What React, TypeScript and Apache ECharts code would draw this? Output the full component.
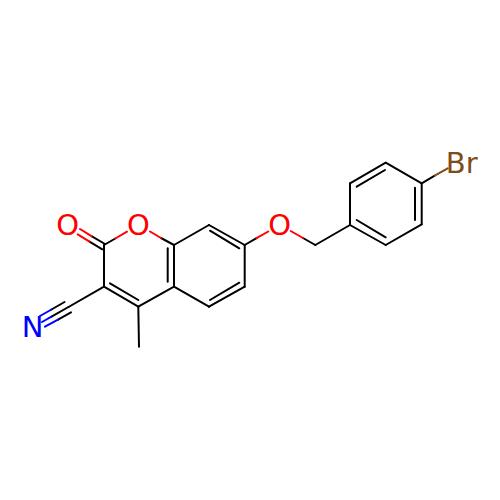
import React, { useEffect, useRef } from "react";
import * as echarts from "echarts";

// Bond segments in picture units: x1, y1, x2, y2
const blackBonds = [
  [91.5, 236.2, 105, 244], [89.5, 241.6, 102.3, 249.3],
  [104, 245, 115.3, 238.5],
  [161, 238, 174, 245],
  [174, 245, 174, 286.7], [167.7, 248.3, 167.7, 281.7],
  [174, 286.7, 138.3, 306.7],
  [138.3, 306.7, 104, 286.7], [110, 283.3, 138.3, 300],
  [104, 286.7, 104, 245],
  [138.3, 306.7, 139, 346.7],
  [104, 286.7, 68.5, 307],
  [64.5, 302, 51.5, 309.5], [71, 312.3, 58, 319.7], [68.5, 307, 51.5, 316.7],
  [174, 286.7, 209, 306.7],
  [209, 306.7, 244.7, 286.7], [210, 300, 239.3, 282.7],
  [244.7, 286.7, 244.7, 245],
  [244.7, 245, 209, 225], [239.3, 248.3, 210, 230.7],
  [209, 225, 174, 245],
  [244.7, 245, 256.5, 238.2],
  [303, 238, 315.3, 245],
  [315.3, 245, 350, 225],
  [350, 225, 350, 183.3], [350, 225, 385.7, 245], [356.7, 220, 385.7, 237.3],
  [350, 183.3, 385.7, 162.7], [356.7, 186.7, 385, 170],
  [385.7, 162.7, 421.7, 183.3],
  [421.7, 183.3, 421.7, 224.3], [415, 187.7, 415, 220],
  [421.7, 224.3, 385.7, 245],
  [421.7, 183.3, 434.7, 175.7],
];
const redBonds = [
  [80, 229, 91.5, 236.2], [77.7, 234.3, 89.5, 241.6],
  [115.3, 238.5, 127, 231.7],
  [150, 231.5, 161, 238],
  [256.5, 238.2, 268.3, 231.5],
  [290.7, 231, 303, 238],
];
const blueBonds = [
  [51.5, 309.5, 40, 316], [58, 319.7, 45, 326.7], [51.5, 316.7, 42, 322],
];
const brownBonds = [[434.7, 175.7, 447.7, 168.3]];

// Atom labels: x, y, text
const oxygenAtoms = [[67.7, 225, "O"], [138.3, 225, "O"], [279.7, 225, "O"]];
const nitrogenAtoms = [[32.7, 327, "N"]];
const bromineAtoms = [[461.7, 163, "Br"]];

const BLACK = "#000000";
const RED = "#FF0000";
const BLUE = "#0000FF";
const BROWN = "#7F4C19";

const bondSeries = (data: number[][], color: string) => ({
  type: "custom",
  coordinateSystem: "cartesian2d",
  silent: true,
  clip: false,
  data,
  encode: { x: [0, 2], y: [1, 3] },
  renderItem: (_p: any, api: any) => {
    const a = api.coord([api.value(0), api.value(1)]);
    const b = api.coord([api.value(2), api.value(3)]);
    return {
      type: "line",
      shape: { x1: a[0], y1: a[1], x2: b[0], y2: b[1] },
      style: { stroke: color, lineWidth: 2, lineCap: "round", fill: "none" },
    };
  },
});

const atomSeries = (data: any[][], color: string) => ({
  type: "scatter",
  silent: true,
  clip: false,
  symbolSize: 0,
  itemStyle: { opacity: 1 },
  data,
  label: {
    show: true,
    position: "inside",
    formatter: (p: any) => p.value[2],
    color,
    opacity: 1,
    fontFamily: "DejaVu Sans",
    fontSize: 29,
    align: "center",
    verticalAlign: "middle",
  },
});

export default function App() {
  const ref = useRef<HTMLDivElement>(null);
  useEffect(() => {
    const chart = echarts.init(ref.current!, null, { renderer: "svg" });
    chart.setOption({
      animation: false,
      backgroundColor: "#ffffff",
      grid: { left: 0, right: 0, top: 0, bottom: 0 },
      xAxis: { type: "value", min: 0, max: 500, show: false },
      yAxis: { type: "value", min: 0, max: 500, inverse: true, show: false },
      series: [
        bondSeries(blackBonds, BLACK),
        bondSeries(redBonds, RED),
        bondSeries(blueBonds, BLUE),
        bondSeries(brownBonds, BROWN),
        atomSeries(oxygenAtoms, RED),
        atomSeries(nitrogenAtoms, BLUE),
        atomSeries(bromineAtoms, BROWN),
      ],
    });
    return () => chart.dispose();
  }, []);
  return (
    <div
      ref={ref}
      style={{ position: "absolute", left: 0, top: 0, width: 500, height: 500 }}
    />
  );
}
